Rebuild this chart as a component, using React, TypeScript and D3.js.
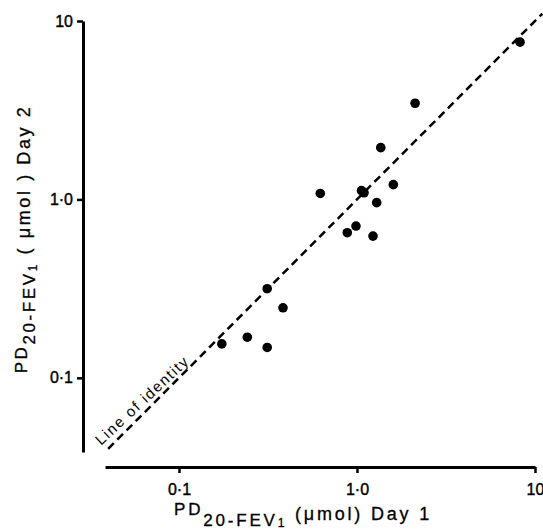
import React, { useEffect, useRef } from 'react';
import * as d3 from 'd3';

// PD20-FEV1 (umol), day 1 vs day 2
const day1 = [8.24, 2.12, 1.36, 0.622, 1.06, 1.095, 1.6, 1.29, 0.987, 0.882, 1.23, 0.313, 0.384, 0.242, 0.313, 0.174];
const day2 = [7.61, 3.46, 1.95, 1.08, 1.12, 1.09, 1.21, 0.959, 0.709, 0.651, 0.623, 0.316, 0.247, 0.169, 0.148, 0.155];
const tickValues = [0.1, 1, 10];
const tickLabels = ['0·1', '1·0', '10'];
const identityRange = [0.04, 11];

export default function App() {
    const svgRef = useRef<SVGSVGElement | null>(null);

    useEffect(() => {
        if (!svgRef.current) return;
        const svg = d3.select(svgRef.current);
        svg.selectAll('*').remove();

        const font = '"Liberation Sans", Arial, sans-serif';
        const lo = 0.0384;

        const x = d3.scaleLog().domain([lo, 10]).range([105, 535]);
        const y = d3.scaleLog().domain([lo, 10]).range([452, 21]);

        // X axis
        const gx = svg.append('g')
            .attr('transform', 'translate(0,467)')
            .call(d3.axisBottom(x)
                .tickValues(tickValues)
                .tickFormat((d, i) => tickLabels[i])
                .tickSize(6)
                .tickSizeOuter(0)
                .tickPadding(11));

        // Y axis
        const gy = svg.append('g')
            .attr('transform', 'translate(83,0)')
            .call(d3.axisLeft(y)
                .tickValues(tickValues)
                .tickFormat((d, i) => tickLabels[i])
                .tickSize(6)
                .tickSizeOuter(0)
                .tickPadding(4));

        [gx, gy].forEach(g => {
            g.select('.domain').attr('stroke', '#000').attr('stroke-width', 3);
            g.selectAll('.tick line').attr('stroke', '#000').attr('stroke-width', 2.5);
            g.selectAll('.tick text')
                .attr('fill', '#000')
                .attr('stroke', '#000')
                .attr('stroke-width', 0.4)
                .attr('font-family', font)
                .attr('font-size', '16px');
        });

        // Line of identity
        svg.append('line')
            .attr('x1', x(identityRange[0]))
            .attr('y1', y(identityRange[0]))
            .attr('x2', x(identityRange[1]))
            .attr('y2', y(identityRange[1]))
            .attr('stroke', '#000')
            .attr('stroke-width', 2.5)
            .attr('stroke-dasharray', '8,5');

        svg.append('text')
            .attr('transform', `translate(${x(0.068)},${y(0.068)}) rotate(-43)`)
            .attr('dy', -5)
            .attr('text-anchor', 'middle')
            .attr('font-family', font)
            .attr('font-size', '15px')
            .attr('letter-spacing', 1.6)
            .attr('fill', '#000')
            .text('Line of identity');

        // Points
        svg.selectAll('.pt')
            .data(day1)
            .join('circle')
            .attr('class', 'pt')
            .attr('cx', d => x(d))
            .attr('cy', (d, i) => y(day2[i]))
            .attr('r', 4.8)
            .attr('fill', '#000');

        // X label
        const xl = svg.append('text')
            .attr('x', 303)
            .attr('y', 520)
            .attr('text-anchor', 'middle')
            .attr('font-family', font)
            .attr('font-size', '18px')
            .attr('letter-spacing', 2.8)
            .attr('stroke', '#000')
            .attr('stroke-width', 0.3)
            .attr('fill', '#000');
        xl.append('tspan').attr('dy', -5).attr('font-size', '17px').text('PD');
        xl.append('tspan').attr('dy', 11).attr('font-size', '17px').text('20-FEV');
        xl.append('tspan').attr('dy', 1).attr('font-size', '12px').text('1');
        xl.append('tspan').attr('dy', -7).text(' (μmol)  Day 1');

        // Y label
        const yl = svg.append('text')
            .attr('transform', 'translate(29.5,239) rotate(-90)')
            .attr('text-anchor', 'middle')
            .attr('font-family', font)
            .attr('font-size', '18px')
            .attr('letter-spacing', 2.6)
            .attr('stroke', '#000')
            .attr('stroke-width', 0.3)
            .attr('fill', '#000');
        yl.append('tspan').attr('dy', -3).attr('font-size', '17px').text('PD');
        yl.append('tspan').attr('dy', 8.5).attr('font-size', '17px').text('20-FEV');
        yl.append('tspan').attr('dy', 1.5).attr('font-size', '12px').text('1');
        yl.append('tspan').attr('dy', -7).text(' ( μmol )  Day 2');
    }, []);

    return (
        <svg
            ref={svgRef}
            width={543}
            height={532}
            viewBox="0 0 543 532"
            style={{ position: 'absolute', left: 0, top: 0, background: '#fff' }}
        />
    );
}
